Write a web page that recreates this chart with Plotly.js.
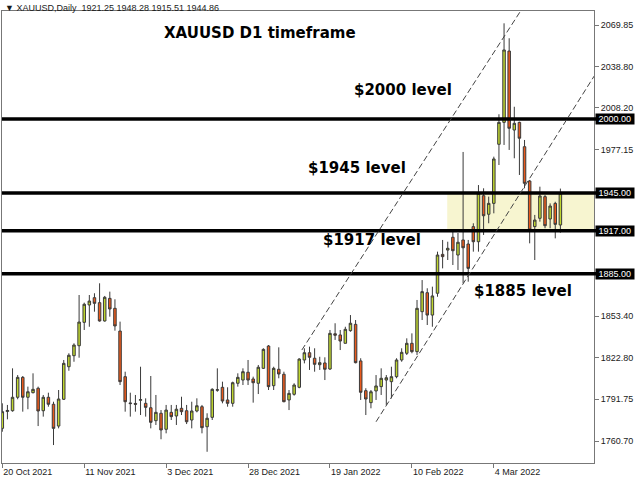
<!DOCTYPE html>
<html><head><meta charset="utf-8">
<script src="https://cdn.plot.ly/plotly-3.0.1.min.js"></script>
<style>html,body{margin:0;padding:0;background:#fff}#chart{width:640px;height:480px}</style>
</head><body><div id="chart"></div>
<script>
// ---------------- data ----------------
const symbol = "XAUUSD";
const period = "Daily";
const chartTitle = "XAUUSD D1 timeframe";
const openP  = [1770.1,1782.6,1783.2,1793.2,1808.0,1793.2,1796.6,1799.9,1783.2,1793.2,
                1788.0,1771.8,1791.7,1815.9,1824.1,1831.5,1848.9,1861.8,1867.2,1863.5,
                1849.9,1866.7,1859.3,1842.4,1808.5,1789.0,1788.6,1791.0,1788.7,1785.4,
                1775.8,1781.3,1769.4,1782.0,1779.3,1785.0,1783.2,1776.3,1783.0,1786.2,
                1771.3,1778.3,1798.4,1800.6,1791.2,1788.7,1803.6,1806.0,1811.8,1806.8,
                1803.6,1814.7,1831.3,1801.8,1814.0,1810.3,1791.2,1795.4,1800.6,1820.9,
                1826.3,1822.2,1817.4,1818.7,1814.2,1840.4,1839.5,1833.3,1842.7,1847.4,
                1820.2,1798.1,1789.2,1797.9,1801.1,1806.0,1804.8,1808.5,1820.9,1825.9,
                1833.3,1827.1,1856.8,1870.9,1854.3,1870.5,1899.4,1902.6,1912.1,1898.9,
                1910.1,1907.1,1920.0,1908.8,1943.0,1929.2,1937.3,1981.2,1997.5,2050.5,
                1991.8,1997.5,1979.4,1953.9,1920.0,1926.2,1942.3,1925.7,1937.3,1921.25];
const highP  = [1788.7,1787.5,1814.7,1809.7,1809.0,1801.1,1811.0,1801.1,1794.9,1796.6,
                1789.9,1798.6,1820.9,1825.9,1833.3,1869.2,1863.5,1869.2,1870.5,1877.9,
                1868.5,1871.7,1866.0,1849.4,1812.2,1796.6,1794.9,1815.9,1792.4,1809.0,
                1794.9,1783.7,1787.5,1787.5,1787.5,1793.6,1787.5,1789.9,1792.4,1787.5,
                1781.3,1799.9,1814.7,1804.8,1800.6,1804.8,1811.0,1814.7,1820.9,1808.5,
                1817.2,1829.6,1832.0,1815.9,1830.3,1812.2,1798.6,1803.6,1822.2,1829.6,
                1830.8,1829.6,1823.3,1822.9,1843.2,1848.2,1843.2,1845.6,1854.3,1850.6,
                1822.2,1799.9,1798.6,1809.7,1814.7,1809.7,1815.9,1822.2,1829.6,1837.0,
                1840.7,1865.5,1880.3,1874.2,1875.4,1901.4,1910.1,1908.8,1917.5,1915.3,
                1975.5,1910.1,1922.5,1950.9,1948.5,1942.3,1972.0,2003.5,2071.1,2060.0,
                2009.1,1998.0,1984.4,1954.7,1928.7,1949.7,1943.5,1937.3,1938.5,1948.28];
const lowP   = [1767.6,1776.8,1782.5,1791.7,1782.5,1784.3,1796.1,1771.8,1778.8,1786.2,
                1757.7,1770.1,1791.2,1812.9,1819.6,1822.6,1843.2,1845.6,1856.8,1849.4,
                1849.4,1853.1,1842.7,1802.3,1782.5,1778.8,1782.5,1780.0,1778.8,1770.1,
                1772.6,1762.0,1766.4,1776.3,1772.6,1780.0,1773.3,1770.1,1782.0,1766.4,
                1752.7,1776.3,1797.3,1788.7,1786.2,1786.2,1801.1,1802.3,1802.3,1789.2,
                1795.6,1814.2,1798.6,1798.6,1807.3,1789.5,1783.7,1794.4,1799.9,1818.4,
                1813.5,1812.2,1813.5,1806.0,1813.5,1835.8,1828.3,1833.3,1841.9,1818.4,
                1791.2,1780.0,1785.0,1791.2,1794.9,1787.5,1792.4,1807.3,1819.6,1824.6,
                1825.9,1824.6,1850.6,1846.9,1845.6,1867.9,1889.0,1895.2,1891.5,1887.8,
                1877.9,1879.1,1901.4,1901.4,1913.8,1922.5,1929.9,1965.8,1980.7,1977.0,
                1970.8,1958.4,1948.5,1907.6,1895.2,1923.7,1918.8,1918.8,1911.3,1915.51];
const closeP = [1782.5,1783.4,1793.2,1808.0,1793.2,1797.3,1799.1,1783.0,1793.2,1788.0,
                1770.1,1791.9,1818.4,1824.4,1832.0,1849.1,1862.3,1864.7,1863.0,1849.9,
                1867.5,1858.8,1846.2,1804.8,1789.9,1788.5,1788.0,1791.4,1785.7,1774.6,
                1782.0,1768.9,1783.7,1778.8,1784.3,1782.5,1775.0,1783.0,1786.9,1770.6,
                1777.6,1799.1,1798.8,1790.4,1788.7,1804.0,1808.0,1812.2,1806.0,1804.0,
                1815.5,1828.8,1801.1,1814.7,1810.5,1789.9,1796.1,1802.3,1821.6,1826.3,
                1822.9,1817.7,1818.9,1814.0,1840.7,1839.3,1835.0,1843.7,1848.2,1818.9,
                1796.9,1791.9,1797.3,1801.6,1807.3,1807.7,1808.5,1820.9,1826.6,1833.3,
                1827.1,1859.3,1871.7,1854.3,1868.5,1898.9,1897.7,1903.9,1902.1,1908.4,
                1904.3,1889.0,1908.8,1944.8,1928.1,1937.3,1970.3,1997.5,2051.3,1993.1,
                1996.8,1985.7,1952.2,1917.5,1924.9,1942.8,1920.7,1935.3,1921.7,1944.86];
const tickIndex  = [0,16,32,48,64,80,96];
const tickLabels = ["20 Oct 2021","11 Nov 2021","3 Dec 2021","28 Dec 2021","19 Jan 2022","10 Feb 2022","4 Mar 2022"];
const priceTicks = [2069.85,2038.80,2008.20,1977.15,1853.40,1822.80,1791.75,1760.70];
const levels     = [2000,1945,1917,1885];
const levelTexts = ["$2000 level","$1945 level","$1917 level","$1885 level"];
const zoneTop = 1945, zoneBottom = 1917, zoneStartIndex = 86.9;
const trendA_index = [58.5,101.1],  trendA_price = [1828.3,2079.5];
const trendB_index = [73.0,115.6],  trendB_price = [1775.0,2031.9];

// ---------------- layout calibration ----------------
const L = 2, R = 594, T = 11, B = 463;           // plot frame in pixels
const barPx = 5.12, bar0Px = 2.3;                 // bar spacing
const refPrice = 1760.70, refPx = 441, pxPerUnit = 416/309.15;
const pxToIdx = px => (px - bar0Px)/barPx;
const pxToPrice = py => refPrice + (refPx - py)/pxPerUnit;
const xp = px => (px - L)/(R - L);
const yp = py => (B - py)/(B - T);

const idx = openP.map((_, i) => i);
const last = openP.length - 1;

const trace = {
  type: 'candlestick',
  x: idx, open: openP, high: highP, low: lowP, close: closeP,
  increasing: {line: {color: '#3a3a3a', width: 1}, fillcolor: '#bfd630'},
  decreasing: {line: {color: '#3a3a3a', width: 1}, fillcolor: '#ea5a1c'},
  whiskerwidth: 0,
  hoverinfo: 'skip',
  showlegend: false
};

const labelFont = {family: 'Liberation Sans, Arial, sans-serif', size: 9, color: '#1a1a1a'};
const boldFont = {family: 'DejaVu Sans, Verdana, sans-serif', size: 15, color: '#000', weight: 'bold'};

const shapes = [];
// yellow zone
shapes.push({type: 'rect', xref: 'x', yref: 'y', x0: zoneStartIndex, x1: pxToIdx(R), y0: zoneBottom, y1: zoneTop,
  fillcolor: '#f7f5d0', line: {width: 0}, layer: 'below'});
// level lines
levels.forEach(v => shapes.push({type: 'line', xref: 'paper', yref: 'y', x0: 0, x1: 1.006, y0: v, y1: v,
  line: {color: '#000', width: 3.5}, layer: 'above'}));
// trend lines
[[trendA_index, trendA_price], [trendB_index, trendB_price]].forEach(([ix, pr]) =>
  shapes.push({type: 'line', xref: 'x', yref: 'y', x0: ix[0], x1: ix[1], y0: pr[0], y1: pr[1],
    line: {color: '#444', width: 1, dash: '6px,3px'}, layer: 'above'}));

const annotations = [];
// header
const hdr = '\u25BC\u00A0' + symbol + ',' + period + '\u00A0\u00A0' +
  [openP[last], highP[last], lowP[last], closeP[last]].map(v => v.toFixed(2)).join(' ');
annotations.push({xref: 'paper', yref: 'paper', x: xp(3), y: yp(7.5), xanchor: 'left', yanchor: 'middle',
  text: hdr, showarrow: false, font: labelFont});
// title text
annotations.push({xref: 'paper', yref: 'paper', x: xp(162), y: yp(33), xanchor: 'left', yanchor: 'middle',
  text: chartTitle, showarrow: false, font: boldFont});
// level texts
const levelTextPos = [[352, 90], [306, 168], [321, 240], [472, 291]];
levelTexts.forEach((t, k) => annotations.push({xref: 'paper', yref: 'paper',
  x: xp(levelTextPos[k][0]), y: yp(levelTextPos[k][1]), xanchor: 'left', yanchor: 'middle',
  text: t, showarrow: false, font: boldFont}));
// level price boxes on the axis
levels.forEach(v => annotations.push({xref: 'paper', yref: 'y', x: 1, xshift: 1, y: v,
  xanchor: 'left', yanchor: 'middle', text: '\u00A0' + v.toFixed(2) + '\u00A0', showarrow: false,
  bgcolor: '#000', borderpad: 0, font: {family: labelFont.family, size: 9, color: '#fff'}}));

const layout = {
  width: 640, height: 480,
  margin: {l: L, r: 640 - R, t: T, b: 480 - B, pad: 0},
  paper_bgcolor: '#fff', plot_bgcolor: '#fff',
  showlegend: false,
  boxgap: 0.3,
  xaxis: {
    type: 'linear', range: [pxToIdx(L), pxToIdx(R)], fixedrange: true,
    rangeslider: {visible: false},
    showgrid: false, zeroline: false,
    showline: true, mirror: true, linecolor: '#777', linewidth: 1,
    ticks: 'outside', ticklen: 4, tickcolor: '#777', tickwidth: 1,
    tickmode: 'array', tickvals: tickIndex, ticktext: tickLabels,
    ticklabelposition: 'outside right',
    tickfont: labelFont
  },
  yaxis: {
    type: 'linear', side: 'right', range: [pxToPrice(B), pxToPrice(T)], fixedrange: true,
    showgrid: false, zeroline: false,
    showline: true, mirror: true, linecolor: '#777', linewidth: 1,
    ticks: 'outside', ticklen: 4, tickcolor: '#777', tickwidth: 1,
    tickmode: 'array', tickvals: priceTicks, ticktext: priceTicks.map(v => v.toFixed(2)),
    tickfont: labelFont
  },
  shapes: shapes,
  annotations: annotations
};

Plotly.newPlot('chart', [trace], layout, {staticPlot: true, displayModeBar: false});
</script>
</body></html>
